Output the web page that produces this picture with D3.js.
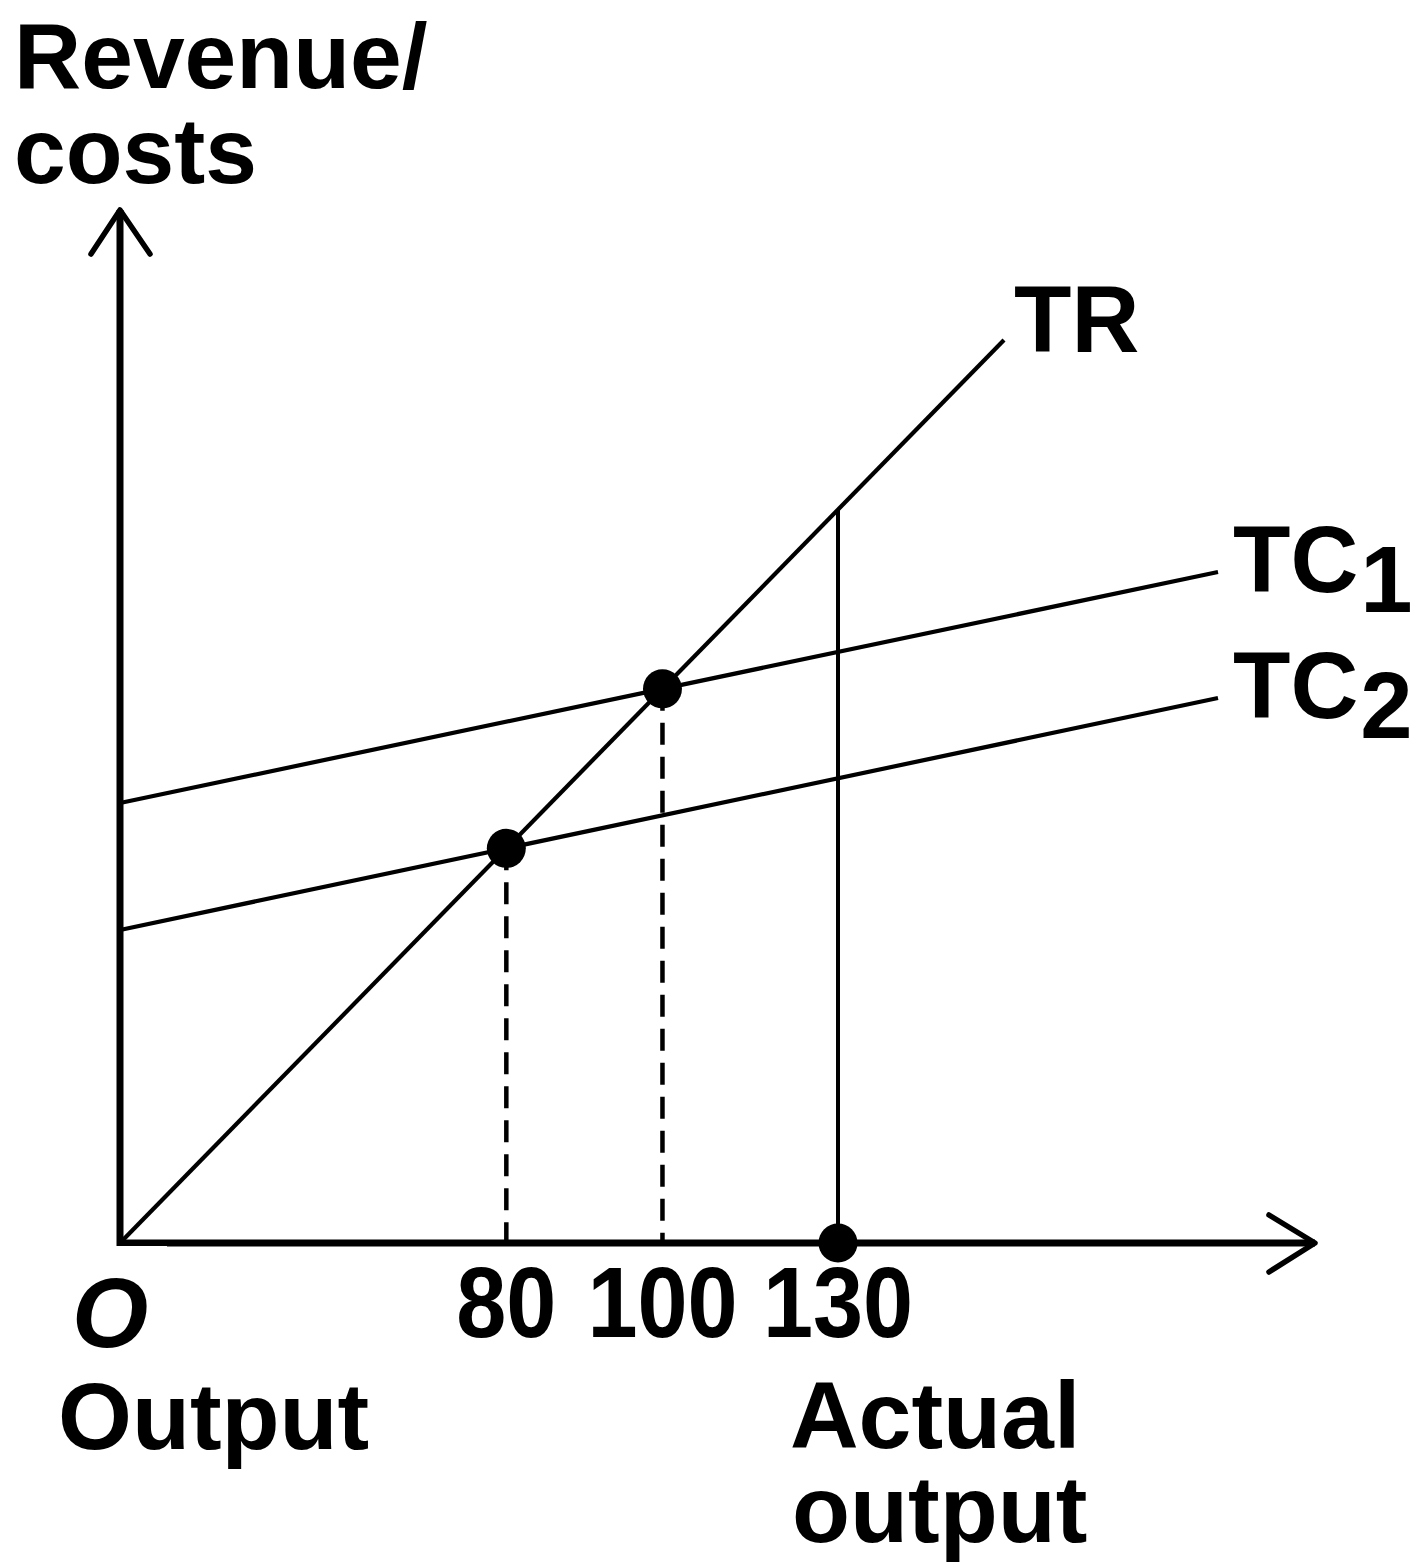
<!DOCTYPE html>
<html>
<head>
<meta charset="utf-8">
<script src="https://cdn.jsdelivr.net/npm/d3@7"></script>
<style>
  html, body { margin: 0; padding: 0; background: #fff; }
  svg { display: block; }
  text { font-family: "Liberation Sans", Arial, sans-serif; font-weight: bold; fill: #000; }
</style>
</head>
<body>
<svg id="chart" width="1418" height="1563"></svg>
<script>
// schematic units (output on x, revenue/costs on y)
const trLine  = [[0, 0], [8.84, 9.03]]
const tc1Line = [[0, 4.40], [10.98, 6.71]]
const tc2Line = [[0, 3.13], [10.98, 5.45]]
const actualX = 7.18
const tickLabels = ['80', '100', '130']
const curveLabels = [
  {name: 'TR',  sub: '',  at: trLine[1]},
  {name: 'TC',  sub: '1', at: tc1Line[1]},
  {name: 'TC',  sub: '2', at: tc2Line[1]}
]

const svg = d3.select('#chart')
const x = d3.scaleLinear().domain([0, 12]).range([120, 1320])
const y = d3.scaleLinear().domain([0, 10.4]).range([1243, 203])

const slope = l => (l[1][1] - l[0][1]) / (l[1][0] - l[0][0])
const at = (l, xv) => l[0][1] + slope(l) * (xv - l[0][0])
// where TR crosses a TC line
const cross = l => (l[0][1] - trLine[0][1]) / (slope(trLine) - slope(l))

const q80  = cross(tc2Line)
const q100 = cross(tc1Line)
const qs = [q80, q100, actualX]

// axes
const x0 = x(0), y0 = y(0)
const yTop = y(10.33), xEnd = x(11.95)
svg.append('line').attr('x1', x0).attr('y1', y0 + 3).attr('x2', x0).attr('y2', yTop)
   .attr('stroke', '#000').attr('stroke-width', 7)
svg.append('line').attr('x1', x0 - 3).attr('y1', y0).attr('x2', xEnd).attr('y2', y0)
   .attr('stroke', '#000').attr('stroke-width', 7)
svg.append('path')
   .attr('d', `M${x0 - 29},${yTop + 44}L${x0},${yTop}L${x0 + 30},${yTop + 44}`)
   .attr('fill', 'none').attr('stroke', '#000').attr('stroke-width', 5.5)
   .attr('stroke-linecap', 'round').attr('stroke-linejoin', 'round')
svg.append('path')
   .attr('d', `M${xEnd - 46},${y0 - 28}L${xEnd},${y0}L${xEnd - 46},${y0 + 29}`)
   .attr('fill', 'none').attr('stroke', '#000').attr('stroke-width', 5.5)
   .attr('stroke-linecap', 'round').attr('stroke-linejoin', 'round')

// dashed drop lines
svg.selectAll('line.drop').data([q80, q100]).enter().append('line')
   .attr('class', 'drop')
   .attr('x1', d => x(d)).attr('x2', d => x(d))
   .attr('y1', d => y(at(trLine, d))).attr('y2', y0)
   .attr('stroke', '#000').attr('stroke-width', 4.5)
   .attr('stroke-dasharray', '22,12')

// actual output vertical
svg.append('line')
   .attr('x1', x(actualX)).attr('x2', x(actualX))
   .attr('y1', y(at(trLine, actualX))).attr('y2', y0)
   .attr('stroke', '#000').attr('stroke-width', 4)

// curves
const line = d3.line().x(d => x(d[0])).y(d => y(d[1]))
svg.selectAll('path.curve').data([trLine, tc1Line, tc2Line]).enter().append('path')
   .attr('class', 'curve')
   .attr('d', line)
   .attr('fill', 'none').attr('stroke', '#000').attr('stroke-width', 4.2)

// dots
const dots = [[q80, at(trLine, q80)], [q100, at(trLine, q100)], [actualX, 0]]
svg.selectAll('circle').data(dots).enter().append('circle')
   .attr('cx', d => x(d[0])).attr('cy', d => y(d[1])).attr('r', 19.5)
   .attr('fill', '#000')

// curve labels
const cl = svg.selectAll('text.curve').data(curveLabels).enter().append('text')
   .attr('class', 'curve')
   .attr('x', d => x(d.at[0]) + (d.sub ? 15 : 10))
   .attr('y', d => y(d.at[1]) + (d.sub ? 20 : 12))
   .attr('font-size', 94)
cl.append('tspan').text(d => d.name)
cl.append('tspan').attr('dx', 2).attr('dy', 20).text(d => d.sub)

// tick labels (narrow bold digits)
svg.selectAll('text.tick').data(tickLabels).enter().append('text')
   .attr('class', 'tick')
   .attr('transform', (d, i) => `translate(${x(qs[i])},${y0 + 94}) scale(0.9,1)`)
   .attr('text-anchor', 'middle')
   .attr('font-size', 100)
   .text(d => d)

// origin label, with white patch as in the original
svg.append('rect').attr('x', 43).attr('y', y0 + 3).attr('width', 124).attr('height', 122).attr('fill', '#fff')
svg.append('text').attr('x', 72).attr('y', y0 + 104)
   .attr('font-size', 98).attr('font-style', 'italic').text('O')

// axis titles
const yt = svg.append('text').attr('font-size', 93)
yt.append('tspan').attr('x', 14).attr('y', 88).text('Revenue/')
yt.append('tspan').attr('x', 14).attr('y', 183).text('costs')

svg.append('text').attr('x', 58).attr('y', 1449).attr('font-size', 95).text('Output')

const at2 = svg.append('text').attr('font-size', 95)
at2.append('tspan').attr('x', 790).attr('y', 1448).text('Actual')
at2.append('tspan').attr('x', 792).attr('y', 1542).text('output')
</script>
</body>
</html>
